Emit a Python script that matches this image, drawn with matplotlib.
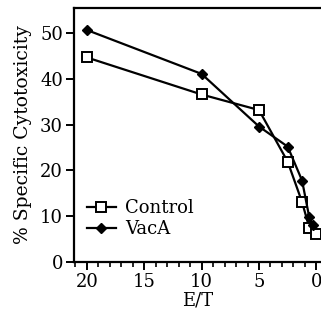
import matplotlib.pyplot as plt
from matplotlib.ticker import MultipleLocator

# E/T ratios and % specific cytotoxicity
control_et = [20, 10, 5, 2.5, 1.25, 0.625, 0.05]
control_y = [44.7, 36.6, 33.2, 21.9, 13.1, 7.5, 6.2]
vaca_et = [20, 10, 5, 2.5, 1.25, 0.625, 0.3125]
vaca_y = [50.7, 41.1, 29.6, 25.2, 17.8, 9.8, 8.0]

plt.rcParams['font.family'] = ['DejaVu Serif']

fig = plt.figure(figsize=(3.21, 3.21), dpi=100)
ax = fig.add_axes([0.231, 0.184, 0.769, 0.791])

ax.plot(control_et, control_y, color='black', lw=1.6, marker='s', ms=7,
        mfc='white', mec='black', mew=1.4, label='Control', zorder=3)
ax.plot(vaca_et, vaca_y, color='black', lw=1.6, marker='D', ms=5,
        mfc='black', mec='black', label='VacA', zorder=4)

ax.set_xlim(21.1, -0.4)
ax.set_ylim(0, 55.5)
ax.set_xticks([20, 15, 10, 5, 0])
ax.xaxis.set_minor_locator(MultipleLocator(1))
ax.set_yticks([0, 10, 20, 30, 40, 50])

ax.spines['right'].set_visible(False)
for s in ['left', 'bottom', 'top']:
    ax.spines[s].set_linewidth(1.6)

ax.tick_params(axis='both', which='major', direction='out', length=6, width=1.4,
               labelsize=13, pad=2)
ax.tick_params(axis='x', which='minor', direction='out', length=3.5, width=1.2)

ax.set_xlabel('E/T', fontsize=13, labelpad=0)
ax.set_ylabel('% Specific Cytotoxicity', fontsize=13.5, labelpad=6)

ax.legend(loc='lower left', bbox_to_anchor=(0.0, 0.045), frameon=False,
          fontsize=13, handlelength=1.6, handletextpad=0.5, labelspacing=0.15,
          borderaxespad=0.3)

fig.savefig('out.png', dpi=100)
